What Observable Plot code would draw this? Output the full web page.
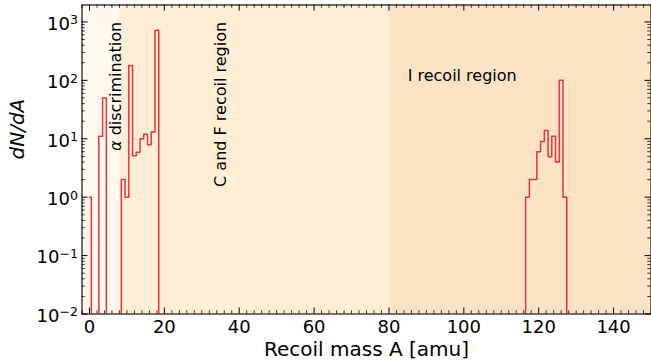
<!DOCTYPE html>
<html><head><meta charset="utf-8">
<script src="https://cdn.jsdelivr.net/npm/d3@7"></script>
<script src="https://cdn.jsdelivr.net/npm/@observablehq/plot@0.6"></script>
<style>body{margin:0;background:#fff} svg{display:block}</style>
</head><body><div id="chart"></div>
<script>
// Histogram of recoil masses (unit bins centred on integer A); unlisted bins are empty
const peakMass  = [0, 3, 4, 9, 10, 11, 12, 13, 14, 15, 16, 17, 18, 117, 118, 119, 120, 121, 122, 123, 124, 125, 126, 127];
const peakCount = [1, 11, 50, 2, 1, 180, 5.1, 5.9, 10, 12, 7.9, 13, 720, 1, 2, 2, 6, 9, 13.8, 4.9, 11, 4, 100, 1];
const massFirst = 0, massLast = 149;

const xTicks = [0, 20, 40, 60, 80, 100, 120, 140];
const yTicks = [1e-2, 1e-1, 1, 10, 100, 1000];
const yTickExp = ["\u22122", "\u22121", "0", "1", "2", "3"];

const regionStart = [-2, 8, 80];
const regionEnd   = [8, 80, 150];
const regionNames = ["\u03b1 discrimination", "C and F recoil region", "I recoil region"];

const regionFill = ["#fff8ee", "#ffeed6", "#fde3c5"];
const lineColor = "#e8343b";

const countByMass = new Map(peakMass.map((m, i) => [m, peakCount[i]]));
const series = d3.range(massFirst, massLast + 1).map(m => ({mass: m, count: countByMass.get(m) ?? 0}));

const xMinor = d3.range(-2, 151, 2).filter(v => !xTicks.includes(v));
const yMinor = [];
for (const t of yTicks) for (let k = 2; k <= 9; k++) if (t * k < 1950) yMinor.push(t * k);

const W = 651, H = 362, mL = 81.5, mR = 0.5, mT = 4.5, mB = 48.5;
const pw = W - mL - mR, ph = H - mT - mB;
const maj = 6, mnr = 3.2;

const font = "DejaVu Sans";
const chart = Plot.plot({
  width: W, height: H,
  marginLeft: mL, marginRight: mR, marginTop: mT, marginBottom: mB,
  style: {fontFamily: font, background: "white", color: "black"},
  x: {type: "linear", domain: [-2, 150]},
  y: {type: "log", domain: [1e-2, 1950]},
  color: {type: "identity"},
  marks: [
    Plot.rect(regionStart, {x1: d => d, x2: (d, i) => regionEnd[i], fill: (d, i) => regionFill[i]}),
    Plot.line(series, {x: "mass", y: d => d.count > 0 ? d.count : 1e-9, curve: "step", stroke: lineColor, strokeWidth: 1.5, clip: true}),
    // inward ticks on all four sides
    Plot.tickX(xTicks, {x: d => d, insetTop: ph - maj, stroke: "black", strokeWidth: 1}),
    Plot.tickX(xTicks, {x: d => d, insetBottom: ph - maj, stroke: "black", strokeWidth: 1}),
    Plot.tickX(xMinor, {x: d => d, insetTop: ph - mnr, stroke: "black", strokeWidth: 0.8}),
    Plot.tickX(xMinor, {x: d => d, insetBottom: ph - mnr, stroke: "black", strokeWidth: 0.8}),
    Plot.tickY(yTicks, {y: d => d, insetRight: pw - maj, stroke: "black", strokeWidth: 1}),
    Plot.tickY(yTicks, {y: d => d, insetLeft: pw - maj, stroke: "black", strokeWidth: 1}),
    Plot.tickY(yMinor, {y: d => d, insetRight: pw - mnr, stroke: "black", strokeWidth: 0.8}),
    Plot.tickY(yMinor, {y: d => d, insetLeft: pw - mnr, stroke: "black", strokeWidth: 0.8}),
    Plot.frame({stroke: "black", strokeWidth: 1.1}),
    Plot.axisX(xTicks, {tickSize: 0, tickPadding: 6, fontSize: 18, label: null, tickFormat: d => String(d)}),
    Plot.axisY(yTicks, {tickSize: 0, tickPadding: 4, fontSize: 18, label: null, dy: 2,
      tickFormat: d => "10^" + yTickExp[yTicks.findIndex(t => Math.abs(Math.log10(t) - Math.log10(d)) < 1e-6)]}),
    Plot.text(["Recoil mass A [amu]"], {text: d => d, frameAnchor: "bottom", lineAnchor: "bottom", dy: 42, fontSize: 20}),
    Plot.text(["dN/dA"], {text: d => d, frameAnchor: "left", dx: -64, rotate: -90, fontSize: 20, fontStyle: "italic"}),
    Plot.text([regionNames[0]], {text: d => d, x: 7, y: 1000, rotate: -90, textAnchor: "end", fontSize: 16}),
    Plot.text([regionNames[1]], {text: d => d, x: 35, y: 1000, rotate: -90, textAnchor: "end", fontSize: 16}),
    Plot.text([regionNames[2]], {text: d => d, x: 85, y: 100, textAnchor: "start", lineAnchor: "bottom", dy: 1, fontSize: 16})
  ]
});
document.getElementById("chart").appendChild(chart);

// superscript exponents on the y tick labels
const ns = "http://www.w3.org/2000/svg";
chart.querySelectorAll('g[aria-label="y-axis tick label"] text').forEach(t => {
  const parts = t.textContent.split("^");
  if (parts.length !== 2) return;
  t.textContent = parts[0];
  const s = document.createElementNS(ns, "tspan");
  s.setAttribute("dy", "-0.42em");
  s.setAttribute("font-size", "0.7em");
  s.textContent = parts[1];
  t.appendChild(s);
});
// italic alpha, as in the original mathtext
chart.querySelectorAll("text").forEach(t => {
  if (t.textContent === regionNames[0]) {
    t.textContent = "";
    const a = document.createElementNS(ns, "tspan");
    a.setAttribute("font-style", "italic");
    a.textContent = "\u03b1";
    t.appendChild(a);
    t.appendChild(document.createTextNode(" discrimination"));
  }
});
</script>
</body></html>
